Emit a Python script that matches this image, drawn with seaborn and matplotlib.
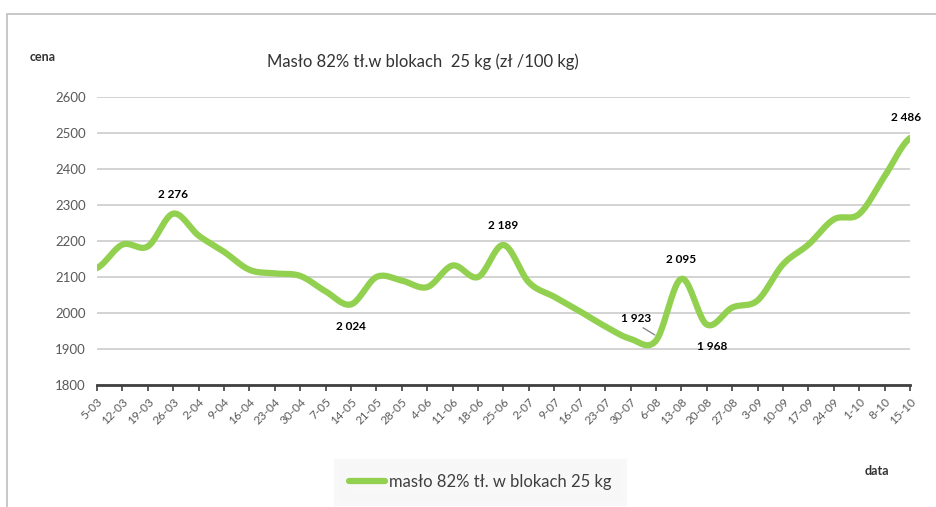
# Masło 82% - wykres cen (zł/100 kg)
import numpy as np
import pandas as pd
import seaborn as sns
import matplotlib.pyplot as plt
from matplotlib.patches import Rectangle

# dane
daty = ['5-03', '12-03', '19-03', '26-03', '2-04', '9-04', '16-04', '23-04', '30-04',
        '7-05', '14-05', '21-05', '28-05', '4-06', '11-06', '18-06', '25-06', '2-07',
        '9-07', '16-07', '23-07', '30-07', '6-08', '13-08', '20-08', '27-08', '3-09',
        '10-09', '17-09', '24-09', '1-10', '8-10', '15-10']
ceny = [2125, 2190, 2185, 2276, 2215, 2170, 2120, 2110, 2103,
        2060, 2024, 2100, 2090, 2072, 2132, 2100, 2189, 2085,
        2045, 2005, 1963, 1928, 1923, 2095, 1968, 2015, 2035,
        2135, 2190, 2260, 2275, 2380, 2486]
# etykiety danych: (indeks, tekst)
etykiety = [(3, '2 276'), (10, '2 024'), (16, '2 189'), (22, '1 923'),
            (23, '2 095'), (24, '1 968'), (32, '2 486')]

ZIELONY = '#92D050'
SZARY = '#595959'


def wygladz(y, n=20):
    # wygładzenie linii jak w Excelu (spline Catmull-Rom)
    p = np.concatenate([[y[0]], y, [y[-1]]]).astype(float)
    xs, ys = [], []
    for i in range(len(y) - 1):
        p0, p1, p2, p3 = p[i], p[i + 1], p[i + 2], p[i + 3]
        t = np.linspace(0, 1, n, endpoint=False)
        v = 0.5 * (2 * p1 + (-p0 + p2) * t + (2 * p0 - 5 * p1 + 4 * p2 - p3) * t ** 2
                   + (-p0 + 3 * p1 - 3 * p2 + p3) * t ** 3)
        xs.extend(i + t)
        ys.extend(v)
    xs.append(len(y) - 1)
    ys.append(y[-1])
    return np.array(xs), np.array(ys)


sns.set_style('white')
plt.rcParams['font.family'] = ['Lato', 'DejaVu Sans']

fig = plt.figure(figsize=(9.37, 5.07), dpi=100)
ax = fig.add_axes([97 / 937, 1 - 385 / 507, (910 - 97) / 937, (385 - 97) / 507])

xs, ys = wygladz(ceny)
df = pd.DataFrame({'x': xs, 'cena': ys})
sns.lineplot(data=df, x='x', y='cena', sort=False, color=ZIELONY, linewidth=4.5,
             solid_capstyle='round', ax=ax, label='masło 82% tł. w blokach 25 kg')

ax.set_xlim(0, len(daty) - 1)
ax.set_ylim(1800, 2600)
ax.set_yticks(range(1800, 2601, 100))
ax.set_xticks(range(len(daty)))
ax.set_xticklabels(daty, rotation=45, ha='right', rotation_mode='anchor',
                   fontsize=8.5, color=SZARY)
ax.tick_params(axis='y', labelsize=9.5, labelcolor=SZARY, length=0, pad=8)
ax.tick_params(axis='x', length=4, width=1.2, color='#404040', direction='out',
               bottom=True, pad=4)
ax.grid(axis='y', color='#d0d0d0', linewidth=1.3)
ax.set_axisbelow(True)
for s in ['left', 'right', 'top']:
    ax.spines[s].set_visible(False)
ax.spines['bottom'].set_color('#404040')
ax.spines['bottom'].set_linewidth(2)
ax.set_xlabel('')
ax.set_ylabel('')

# etykiety wartości
offs = {3: (0, 14), 10: (0, -16), 16: (0, 14), 22: (-14, 16),
        23: (0, 14), 24: (4, -16), 32: (-3, 15)}
for i, t in etykiety:
    dx, dy = offs[i]
    ax.annotate(t, (i, ceny[i]), xytext=(dx, dy), textcoords='offset points',
                ha='center', va='center', fontsize=8.5, fontweight='bold', color='#000000')
# linia odniesienia dla 1 923
ax.annotate('', (22.05, ceny[22] + 12), xytext=(21.4, ceny[22] + 40),
            arrowprops=dict(arrowstyle='-', color='#7f7f7f', linewidth=0.9))

leg = ax.legend(loc='center', bbox_to_anchor=(480 / 937, 1 - 482 / 507),
                bbox_transform=fig.transFigure, frameon=True, fontsize=12,
                handlelength=2.2, handletextpad=0.2, borderpad=0.6, fancybox=False,
                borderaxespad=0)
leg.get_frame().set_facecolor('#f7f7f7')
leg.get_frame().set_edgecolor('#f7f7f7')
leg.get_frame().set_linewidth(8)
for t in leg.get_texts():
    t.set_color('#404040')

fig.text(423 / 937, 1 - 62 / 507, 'Masło 82% tł.w blokach  25 kg (zł /100 kg)',
         ha='center', va='center', fontsize=12, color='#333333')
fig.text(30 / 937, 1 - 57 / 507, 'cena', ha='left', va='center', fontsize=9,
         fontweight='bold', color='#333333')
fig.text(877 / 937, 1 - 471 / 507, 'data', ha='center', va='center', fontsize=9,
         fontweight='bold', color='#333333')

# ramka wykresu
fig.patches.append(Rectangle((7 / 937, -0.05), 1.2, 1 - 14 / 507 + 0.05,
                             transform=fig.transFigure, fill=False,
                             edgecolor='#bfbfbf', linewidth=1.2))

fig.savefig('out.png', dpi=100)
